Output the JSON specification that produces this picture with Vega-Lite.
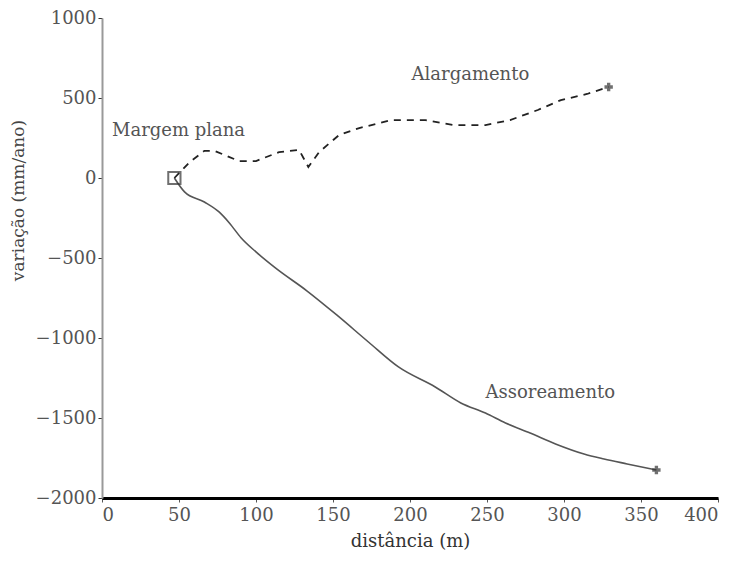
{
  "$schema": "https://vega.github.io/schema/vega-lite/v6.json",
  "width": 616,
  "height": 480,
  "autosize": "none",
  "padding": {"left": 102, "top": 18, "right": 18, "bottom": 66},
  "background": "white",
  "config": {
    "view": {"stroke": null},
    "font": "DejaVu Serif"
  },
  "datasets": {
    "curves": [
      {"series": "upper", "x": 47, "y": 0},
      {"series": "upper", "x": 57, "y": 100},
      {"series": "upper", "x": 66.5, "y": 170},
      {"series": "upper", "x": 73, "y": 170},
      {"series": "upper", "x": 89, "y": 106},
      {"series": "upper", "x": 100, "y": 106},
      {"series": "upper", "x": 115, "y": 162},
      {"series": "upper", "x": 128, "y": 175},
      {"series": "upper", "x": 134, "y": 69},
      {"series": "upper", "x": 141, "y": 162},
      {"series": "upper", "x": 154, "y": 269},
      {"series": "upper", "x": 167, "y": 312},
      {"series": "upper", "x": 188, "y": 362},
      {"series": "upper", "x": 210, "y": 362},
      {"series": "upper", "x": 228, "y": 331},
      {"series": "upper", "x": 249, "y": 331},
      {"series": "upper", "x": 265, "y": 362},
      {"series": "upper", "x": 283, "y": 425},
      {"series": "upper", "x": 298, "y": 487},
      {"series": "upper", "x": 315, "y": 525},
      {"series": "upper", "x": 329, "y": 569},
      {"series": "lower", "x": 47, "y": 0},
      {"series": "lower", "x": 53.6, "y": -87},
      {"series": "lower", "x": 66.5, "y": -150},
      {"series": "lower", "x": 76, "y": -212},
      {"series": "lower", "x": 82.7, "y": -281},
      {"series": "lower", "x": 90.4, "y": -375},
      {"series": "lower", "x": 100, "y": -462},
      {"series": "lower", "x": 113, "y": -565},
      {"series": "lower", "x": 133, "y": -705},
      {"series": "lower", "x": 152.4, "y": -856},
      {"series": "lower", "x": 173, "y": -1025},
      {"series": "lower", "x": 192.5, "y": -1181},
      {"series": "lower", "x": 216.4, "y": -1306},
      {"series": "lower", "x": 233, "y": -1406},
      {"series": "lower", "x": 249, "y": -1469},
      {"series": "lower", "x": 262, "y": -1531},
      {"series": "lower", "x": 278, "y": -1594},
      {"series": "lower", "x": 294.5, "y": -1662},
      {"series": "lower", "x": 313, "y": -1725},
      {"series": "lower", "x": 326, "y": -1756},
      {"series": "lower", "x": 341, "y": -1787},
      {"series": "lower", "x": 360, "y": -1825}
    ],
    "starts": [{"x": 47, "y": 0}],
    "ends": [
      {"x": 329, "y": 569},
      {"x": 360, "y": -1825}
    ],
    "notes": [
      {"x": 6.5, "y": 294, "label": "Margem plana"},
      {"x": 201, "y": 644, "label": "Alargamento"},
      {"x": 249, "y": -1344, "label": "Assoreamento"}
    ]
  },
  "layer": [
    {
      "data": {"name": "curves"},
      "transform": [{"filter": "datum.series === 'upper'"}],
      "mark": {"type": "line", "color": "#222222", "strokeWidth": 1.8, "strokeDash": [7, 6]},
      "encoding": {
        "x": {
          "field": "x", "type": "quantitative",
          "scale": {"domain": [0, 400], "nice": false},
          "axis": {
            "title": "distância (m)",
            "values": [0, 50, 100, 150, 200, 250, 300, 350, 400],
            "format": "d",
            "grid": false,
            "domainColor": "#000000", "domainWidth": 3,
            "tickColor": "#555555", "tickSize": 4,
            "labelFont": "DejaVu Serif", "labelFontSize": 18, "labelColor": "#555555", "labelPadding": 4,
            "titleFont": "DejaVu Serif", "titleFontSize": 18, "titleFontWeight": "normal", "titleColor": "#333333", "titlePadding": 8
          }
        },
        "y": {
          "field": "y", "type": "quantitative",
          "scale": {"domain": [-2000, 1000], "nice": false},
          "axis": {
            "title": "variação (mm/ano)",
            "values": [-2000, -1500, -1000, -500, 0, 500, 1000],
            "format": "d",
            "grid": false,
            "domainColor": "#999999", "domainWidth": 2,
            "tickColor": "#333333", "tickSize": 4,
            "labelFont": "DejaVu Serif", "labelFontSize": 18, "labelColor": "#555555", "labelPadding": 2,
            "titleFont": "DejaVu Serif", "titleFontSize": 17, "titleFontWeight": "normal", "titleColor": "#444444",
            "titleAngle": 270, "titleX": -84, "titleY": 182, "titleAlign": "center", "titleBaseline": "middle"
          }
        }
      }
    },
    {
      "data": {"name": "curves"},
      "transform": [{"filter": "datum.series === 'lower'"}],
      "mark": {"type": "line", "color": "#555555", "strokeWidth": 1.6, "interpolate": "monotone"},
      "encoding": {
        "x": {"field": "x", "type": "quantitative"},
        "y": {"field": "y", "type": "quantitative"}
      }
    },
    {
      "data": {"name": "starts"},
      "mark": {"type": "point", "shape": "square", "size": 150, "filled": false, "color": "#333333", "strokeWidth": 2},
      "encoding": {
        "x": {"field": "x", "type": "quantitative"},
        "y": {"field": "y", "type": "quantitative"}
      }
    },
    {
      "data": {"name": "ends"},
      "mark": {"type": "point", "shape": "cross", "size": 70, "filled": true, "color": "#333333"},
      "encoding": {
        "x": {"field": "x", "type": "quantitative"},
        "y": {"field": "y", "type": "quantitative"}
      }
    },
    {
      "data": {"name": "notes"},
      "mark": {"type": "text", "align": "left", "baseline": "middle", "font": "DejaVu Serif", "fontSize": 18, "color": "#555555"},
      "encoding": {
        "x": {"field": "x", "type": "quantitative"},
        "y": {"field": "y", "type": "quantitative"},
        "text": {"field": "label"}
      }
    }
  ]
}
